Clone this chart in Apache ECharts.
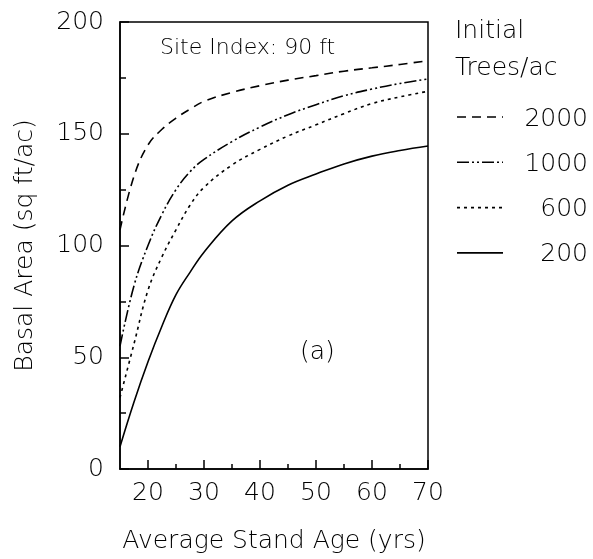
<!DOCTYPE html>
<html><head><meta charset="utf-8">
<script src="https://cdn.jsdelivr.net/npm/echarts@6/dist/echarts.min.js"></script>
<style>html,body{margin:0;padding:0;background:#fff}#c{width:593px;height:559px}</style>
</head><body><div id="c"></div>
<script>
const ages = [15, 17.5, 20, 22.5, 25, 27.5, 30, 35, 40, 45, 50, 55, 60, 65, 70];
const ba2000 = [107, 131, 145, 152, 157, 161, 164.5, 168.5, 171.5, 174, 176, 178, 179.5, 181, 182.7];
const ba1000 = [55, 82, 100, 114, 125, 133, 138.5, 146.5, 153, 158.5, 163, 167, 170, 172.5, 174.5];
const ba600 = [32, 56, 80, 95, 107, 118, 126, 136, 143, 149, 154, 159, 163.5, 166.5, 169];
const ba200 = [10, 30, 48, 64, 78, 88, 97, 111, 120, 127, 132, 136.5, 140, 142.5, 144.5];
const seriesNames = ['2000', '1000', '600', '200'];
const xMajor = [20, 30, 40, 50, 60, 70];
const xMinor = [25, 35, 45, 55, 65];

const F = 'DejaVu Sans';
const W = 200;
const pairs = a => ages.map((x, i) => [x, a[i]]);
const styles = [[9, 6], [12, 3, 2, 3, 2, 3], [3, 4], null];
const datas = [ba2000, ba1000, ba600, ba200];

// manual legend (key samples + labels)
const legendGraphics = [];
seriesNames.forEach((n, i) => {
  const y = 117 + i * 45.3;
  legendGraphics.push({ type: 'line', shape: { x1: 457, y1: y, x2: 503, y2: y },
    style: { stroke: '#000', lineWidth: 1.6, lineDash: styles[i] || null } });
  legendGraphics.push({ type: 'text', x: 588, y: y + 2,
    style: { text: n, font: W + ' 25px "DejaVu Sans"', fill: '#000', align: 'right', verticalAlign: 'middle' } });
});

const chart = echarts.init(document.getElementById('c'));
chart.setOption({
  animation: false,
  backgroundColor: '#fff',
  grid: { left: 120, top: 22, right: 165, bottom: 90, show: true, borderColor: '#000', borderWidth: 1.5, backgroundColor: 'transparent' },
  xAxis: [{
    type: 'value', min: 15, max: 70,
    name: 'Average Stand Age (yrs)', nameLocation: 'middle', nameGap: 60,
    nameTextStyle: { fontFamily: F, fontWeight: W, fontSize: 25, color: '#000' },
    axisLine: { lineStyle: { color: '#000', width: 1.5 } },
    axisTick: { inside: true, length: 9, customValues: xMajor, lineStyle: { color: '#000', width: 1.5 } },
    axisLabel: { customValues: xMajor, fontFamily: F, fontWeight: W, fontSize: 25, color: '#000', margin: 12 },
    splitLine: { show: false }
  }, {
    type: 'value', min: 15, max: 70, position: 'bottom',
    axisLine: { show: false },
    axisTick: { inside: true, length: 5, customValues: xMinor, lineStyle: { color: '#000', width: 1.5 } },
    axisLabel: { show: false },
    splitLine: { show: false }
  }],
  yAxis: {
    type: 'value', min: 0, max: 200, interval: 50,
    name: 'Basal Area (sq ft/ac)', nameLocation: 'middle', nameGap: 82, nameRotate: 90,
    nameTextStyle: { fontFamily: F, fontWeight: W, fontSize: 25, color: '#000' },
    axisLine: { show: true, lineStyle: { color: '#000', width: 1.5 } },
    axisTick: { show: true, inside: true, length: 9, lineStyle: { color: '#000', width: 1.5 } },
    minorTick: { show: true, splitNumber: 2, length: 6, lineStyle: { color: '#000', width: 1.5 } },
    axisLabel: { fontFamily: F, fontWeight: W, fontSize: 25, color: '#000', margin: 16 },
    splitLine: { show: false }
  },
  graphic: [
    { type: 'text', left: 160, top: 37, style: { text: 'Site Index: 90 ft', font: W + ' 22px "DejaVu Sans"', fill: '#000' } },
    { type: 'text', left: 300, top: 340, style: { text: '(a)', font: W + ' 25px "DejaVu Sans"', fill: '#000' } },
    { type: 'text', left: 455, top: 19, style: { text: 'Initial', font: W + ' 25px "DejaVu Sans"', fill: '#000' } },
    { type: 'text', left: 455, top: 56, style: { text: 'Trees/ac', font: W + ' 25px "DejaVu Sans"', fill: '#000' } }
  ].concat(legendGraphics),
  series: seriesNames.map((n, i) => ({
    name: n, type: 'line', smooth: 0.4, showSymbol: false, symbol: 'none',
    xAxisIndex: 0, data: pairs(datas[i]),
    lineStyle: { color: '#000', width: 1.6, type: styles[i] || 'solid' },
    itemStyle: { color: '#000' }
  }))
});
</script></body></html>
